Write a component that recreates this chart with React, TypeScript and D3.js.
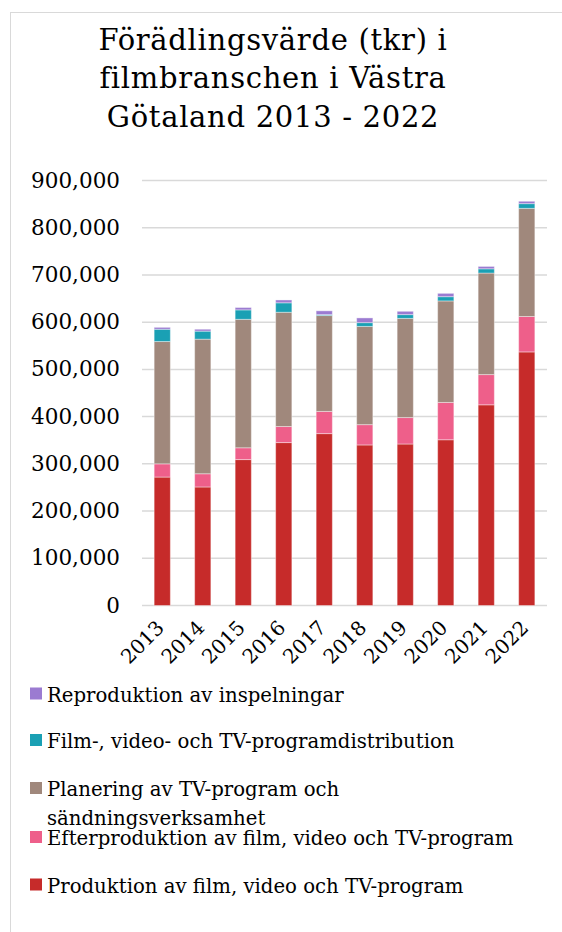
import React from "react";
import * as d3 from "d3";

const years = ["2013", "2014", "2015", "2016", "2017", "2018", "2019", "2020", "2021", "2022"];
const produktion = [272000, 251000, 309000, 345000, 364000, 340000, 342000, 351000, 425000, 537000];
const efterproduktion = [28000, 28000, 25000, 34000, 47000, 43000, 56000, 79000, 64000, 75000];
const planering = [259000, 285000, 272000, 242000, 203000, 208000, 210000, 215000, 215000, 229000];
const distribution = [26000, 17000, 20000, 20000, 2000, 8000, 8000, 9000, 9000, 10000];
const reproduktion = [4000, 4000, 5000, 6000, 8000, 10000, 7000, 7000, 5000, 5000];
const yTicks = [0, 100000, 200000, 300000, 400000, 500000, 600000, 700000, 800000, 900000];
const titleLines = ["Förädlingsvärde (tkr) i", "filmbranschen i Västra", "Götaland 2013 - 2022"];

const seriesNames = [
  "Produktion av film, video och TV-program",
  "Efterproduktion av film, video och TV-program",
  "Planering av TV-program och sändningsverksamhet",
  "Film-, video- och TV-programdistribution",
  "Reproduktion av inspelningar",
];
const seriesColors = ["#C62B2A", "#EE5F8A", "#A0887C", "#1AA0B4", "#9B7BD1"];
const seriesKeys = ["p", "e", "pl", "d", "r"];

const FONT = "'DejaVu Serif', serif";

export default function App() {
  const W = 562, H = 932;
  const x0 = 142, x1 = 547, yBottom = 605.5, yTop = 180.5;
  const x = d3.scaleBand<string>().domain(years).range([x0, x1]).paddingInner(0.6).paddingOuter(0.3);
  const y = d3.scaleLinear().domain([0, 900000]).range([yBottom, yTop]);
  const rows = years.map((yr, i) => ({
    year: yr,
    p: produktion[i],
    e: efterproduktion[i],
    pl: planering[i],
    d: distribution[i],
    r: reproduktion[i],
  }));
  const stack = d3.stack<any>().keys(seriesKeys)(rows);
  const fmt = d3.format(",");

  const legendItems = [
    { name: [seriesNames[4]], color: seriesColors[4], y: 701.5 },
    { name: [seriesNames[3]], color: seriesColors[3], y: 748 },
    { name: ["Planering av TV-program och", "sändningsverksamhet"], color: seriesColors[2], y: 796 },
    { name: [seriesNames[1]], color: seriesColors[1], y: 845 },
    { name: [seriesNames[0]], color: seriesColors[0], y: 892.5 },
  ];

  return (
    <svg width={W} height={H} style={{ position: "absolute", left: 0, top: 0, background: "#fff" }} fontFamily={FONT}>
      <rect x={0} y={0} width={W} height={H} fill="#fff" />
      <line x1={10.5} x2={10.5} y1={12} y2={H} stroke="#d9d9d9" strokeWidth={1} />
      <line x1={10} x2={W} y1={12.5} y2={12.5} stroke="#d9d9d9" strokeWidth={1} />
      {titleLines.map((t, i) => (
        <text key={i} x={273} y={50 + i * 38.3} textAnchor="middle" fontSize={29} letterSpacing={0.7} fill="#000">
          {t}
        </text>
      ))}
      {yTicks.map((v) => (
        <g key={v}>
          <line x1={x0} x2={x1} y1={y(v)} y2={y(v)} stroke="#d9d9d9" strokeWidth={1.5} />
          <text x={120} y={y(v) + 7} textAnchor="end" fontSize={21.5} fill="#000">
            {fmt(v)}
          </text>
        </g>
      ))}
      {stack.map((layer, si) => (
        <g key={si} fill={seriesColors[si]}>
          {layer.map((d: any, i: number) => (
            <rect
              key={i}
              x={x(years[i])!}
              width={x.bandwidth()}
              y={y(d[1])}
              height={Math.max(0, y(d[0]) - y(d[1]))}
              stroke="rgba(255,255,255,0.4)"
              strokeWidth={1}
            />
          ))}
        </g>
      ))}
      {years.map((yr) => {
        const cx = x(yr)! + x.bandwidth() / 2;
        return (
          <text
            key={yr}
            transform={`translate(${cx - 7},${619}) rotate(-45)`}
            textAnchor="end"
            fontSize={20}
            dy="0.7em"
            fill="#000"
          >
            {yr}
          </text>
        );
      })}
      {legendItems.map((it, i) => (
        <g key={i}>
          <rect x={30} y={it.y - 14} width={12} height={12} fill={it.color} />
          {it.name.map((ln, j) => (
            <text key={j} x={47} y={it.y + j * 29} fontSize={19.7} fill="#000">
              {ln}
            </text>
          ))}
        </g>
      ))}
    </svg>
  );
}
